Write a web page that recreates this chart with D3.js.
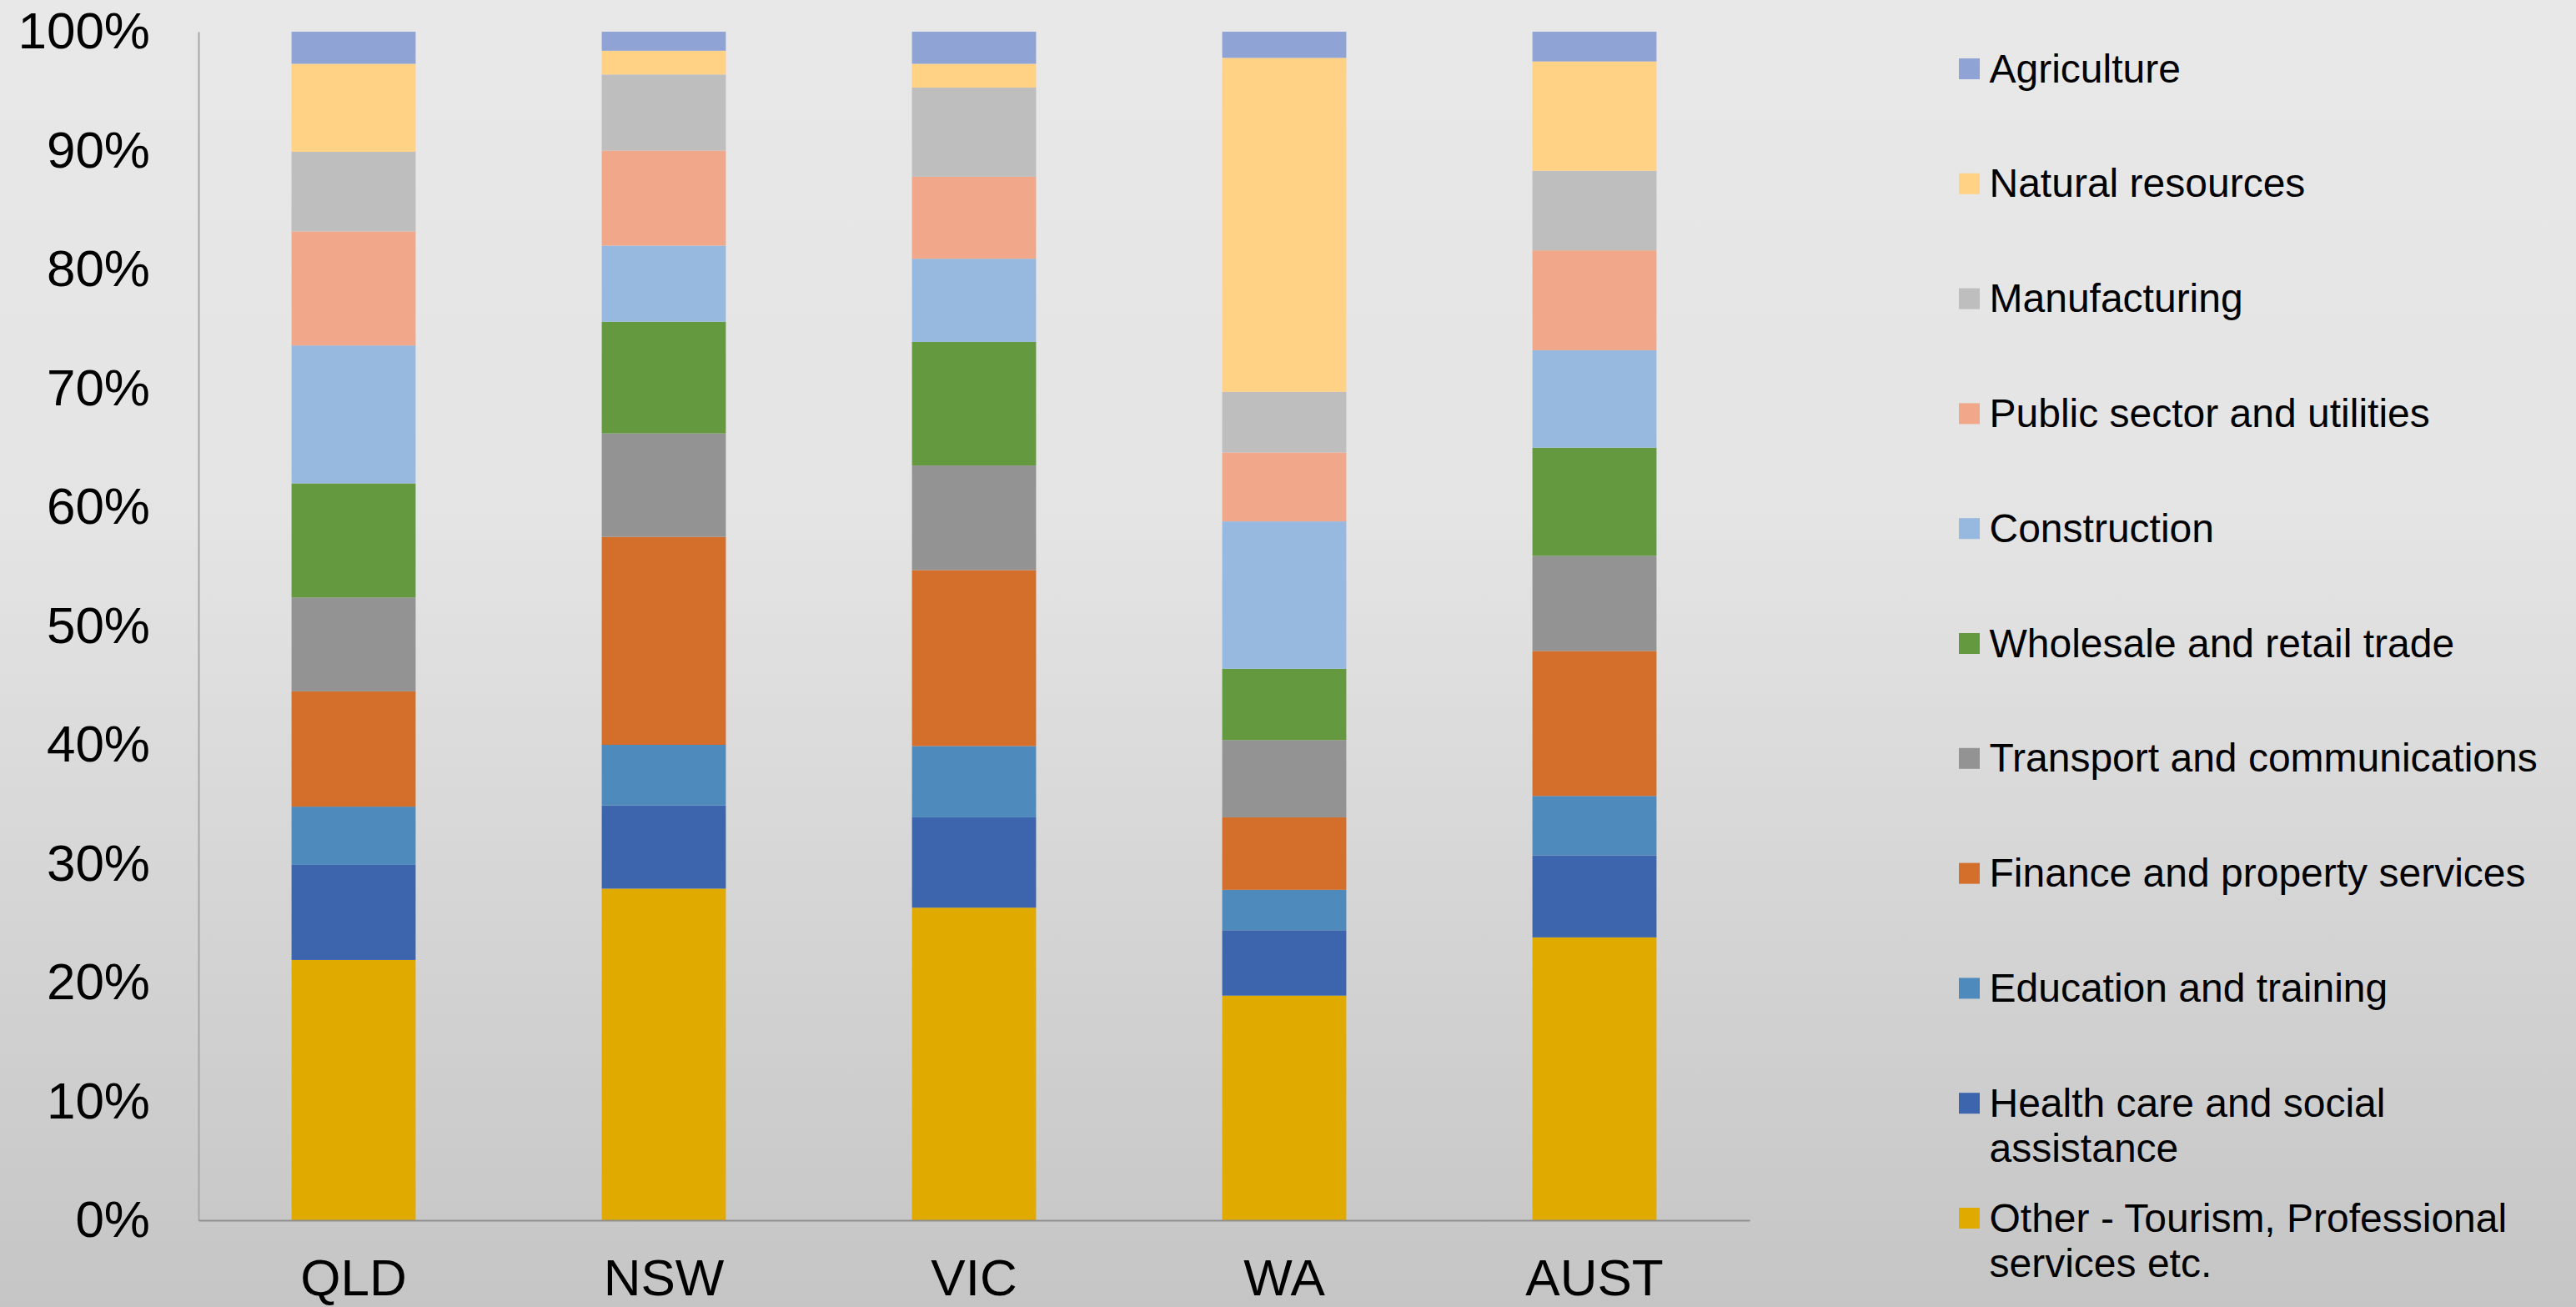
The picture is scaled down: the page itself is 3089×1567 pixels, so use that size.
<!DOCTYPE html>
<html>
<head>
<meta charset="utf-8">
<script src="https://cdn.jsdelivr.net/npm/d3@7"></script>
<style>
  html, body { margin: 0; padding: 0; overflow: hidden; }
  svg { display: block; font-family: "Liberation Sans", Arial, sans-serif; }
</style>
</head>
<body>
<svg id="chart" width="3089" height="1567"></svg>
<script>
// ---- Data (percent of employment) ----
const regions = ["QLD", "NSW", "VIC", "WA", "AUST"];

const other         = [21.9, 27.9, 26.3, 18.9, 23.8];
const health        = [8.0,  7.0,  7.6,  5.5,  6.9];
const education     = [4.9,  5.1,  6.0,  3.4,  5.0];
const finance       = [9.7,  17.5, 14.8, 6.1,  12.2];
const transport     = [7.9,  8.7,  8.8,  6.5,  8.0];
const wholesale     = [9.6,  9.4,  10.4, 6.0,  9.1];
const construction  = [11.6, 6.4,  7.0,  12.4, 8.2];
const publicSector  = [9.6,  8.0,  6.9,  5.8,  8.4];
const manufacturing = [6.7,  6.4,  7.5,  5.1,  6.7];
const naturalRes    = [7.4,  2.0,  2.0,  28.1, 9.2];
const agriculture   = [2.7,  1.6,  2.7,  2.2,  2.5];

// stacking order bottom -> top
const seriesNames = [
  "Other - Tourism, Professional services etc.",
  "Health care and social assistance",
  "Education and training",
  "Finance and property services",
  "Transport and communications",
  "Wholesale and retail trade",
  "Construction",
  "Public sector and utilities",
  "Manufacturing",
  "Natural resources",
  "Agriculture"
];
const seriesValues = [other, health, education, finance, transport, wholesale,
  construction, publicSector, manufacturing, naturalRes, agriculture];
const seriesColors = ["#E1AA00", "#3C65AD", "#4F8ABD", "#D36E2B", "#939393", "#64993F",
  "#97B9DF", "#F1A88A", "#BEBEBE", "#FFD286", "#8FA3D4"];

const yTicks = [0, 10, 20, 30, 40, 50, 60, 70, 80, 90, 100];

// ---- Build table ----
const table = regions.map((r, i) => {
  const row = { region: r };
  seriesNames.forEach((s, k) => { row[s] = seriesValues[k][i]; });
  return row;
});

const svg = d3.select("#chart");
const W = 3089, H = 1567;

// background gradient
const defs = svg.append("defs");
const grad = defs.append("linearGradient").attr("id", "bg")
  .attr("x1", 0).attr("y1", 0).attr("x2", 0).attr("y2", 1);
grad.append("stop").attr("offset", "0%").attr("stop-color", "#E8E8E8");
grad.append("stop").attr("offset", "40%").attr("stop-color", "#E4E4E4");
grad.append("stop").attr("offset", "100%").attr("stop-color", "#C5C5C5");
svg.append("rect").attr("width", W).attr("height", H).attr("fill", "url(#bg)");

// scales
const x = d3.scaleBand().domain(regions).range([238, 2098])
  .paddingInner(0.6).paddingOuter(0.3);
const y = d3.scaleLinear().domain([0, 100]).range([1463, 38]);
const color = d3.scaleOrdinal().domain(seriesNames).range(seriesColors);

const stack = d3.stack().keys(seriesNames);
const stacked = stack(table);

// bars
svg.append("g").selectAll("g")
  .data(stacked)
  .join("g")
  .attr("fill", d => color(d.key))
  .selectAll("rect")
  .data(d => d)
  .join("rect")
  .attr("x", d => x(d.data.region))
  .attr("width", x.bandwidth())
  .attr("y", d => y(d[1]))
  .attr("height", d => y(d[0]) - y(d[1]));

// y axis
const yAxis = svg.append("g")
  .attr("transform", "translate(238,0)")
  .call(d3.axisLeft(y).tickValues(yTicks).tickFormat(d => d + "%")
    .tickSize(0).tickSizeOuter(0).tickPadding(58));
yAxis.select(".domain").attr("stroke", "#A6A6A6").attr("stroke-width", 2);
yAxis.selectAll("text").attr("font-size", 62).attr("fill", "#000")
  .attr("font-family", "'Liberation Sans', Arial, sans-serif");

// x axis
const xAxis = svg.append("g")
  .attr("transform", "translate(0,1463)")
  .call(d3.axisBottom(x).tickSize(0).tickSizeOuter(0).tickPadding(46));
xAxis.select(".domain").attr("stroke", "#8F8F8F").attr("stroke-width", 2);
xAxis.selectAll("text").attr("font-size", 62).attr("fill", "#000")
  .attr("font-family", "'Liberation Sans', Arial, sans-serif");

// legend (top -> bottom is reverse of stacking)
const legendItems = seriesNames.slice().reverse();
const legend = svg.append("g");
const legX = 2349, legY0 = 82.5, legStep = 137.8, maxW = 675;
legendItems.forEach((name, i) => {
  const cy = legY0 + i * legStep;
  const g = legend.append("g");
  g.append("rect").attr("x", legX).attr("y", cy - 12.5)
    .attr("width", 25).attr("height", 25).attr("fill", color(name));
  const t = g.append("text").attr("x", 2385.5).attr("y", cy + 16)
    .attr("font-size", 48).attr("fill", "#000");
  // word wrap
  const words = name.split(" ");
  let line = [];
  let tspan = t.append("tspan").attr("x", 2385.5).attr("dy", 0);
  words.forEach(w => {
    line.push(w);
    tspan.text(line.join(" "));
    if (tspan.node().getComputedTextLength() > maxW && line.length > 1) {
      line.pop();
      tspan.text(line.join(" "));
      line = [w];
      tspan = t.append("tspan").attr("x", 2385.5).attr("dy", 54).text(w);
    }
  });
});
</script>
</body>
</html>
